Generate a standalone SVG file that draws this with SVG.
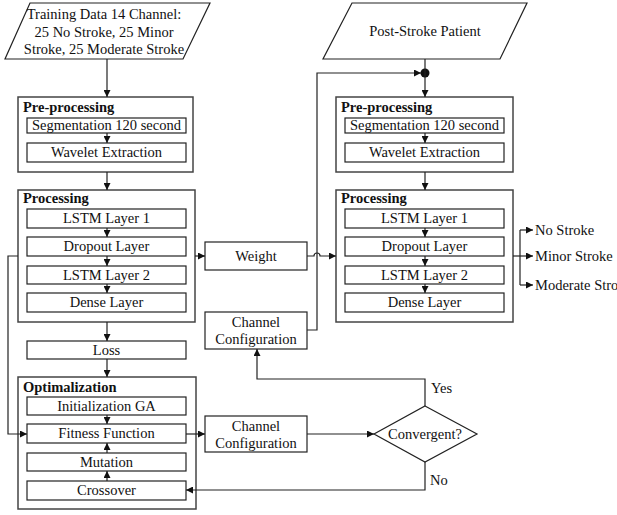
<svg xmlns="http://www.w3.org/2000/svg" width="617" height="515" viewBox="0 0 617 515">
<style>
.b{fill:#fff;stroke:#222;stroke-width:1.2}
.o{fill:#fff;stroke:#444;stroke-width:1.5}
text{font-family:'Liberation Serif','Times New Roman','DejaVu Serif',serif;font-size:14.5px;fill:#111}
.t{text-anchor:middle}
.h{font-weight:bold}
.c{fill:none;stroke:#222;stroke-width:1.2}
</style>
<defs>
<marker id="a" viewBox="0 0 10 10" refX="10" refY="5" markerWidth="7" markerHeight="7" markerUnits="userSpaceOnUse" orient="auto"><path d="M0,0 L10,5 L0,10 z" fill="#111"/></marker>
</defs>
<rect width="617" height="515" fill="#fff"/>
<g id="training-data">
<polygon class="b" points="30,3 210,3 183,59 5,59"/>
<text class="t" x="104" y="19">Training Data 14 Channel:</text>
<text class="t" x="104" y="37">25 No Stroke, 25 Minor</text>
<text class="t" x="104" y="54">Stroke, 25 Moderate Stroke</text>
</g>
<g id="preprocessing-left">
<rect class="o" x="18" y="97" width="175" height="75"/>
<text class="h" x="23" y="112">Pre-processing</text>
<rect class="b" x="27" y="118" width="159" height="15"/>
<text class="t" x="106.5" y="130">Segmentation 120 second</text>
<rect class="b" x="27" y="143" width="159" height="19"/>
<text class="t" x="106.5" y="157">Wavelet Extraction</text>
</g>
<g id="processing-left">
<rect class="o" x="18" y="190" width="177" height="132"/>
<text class="h" x="23" y="203">Processing</text>
<rect class="b" x="27" y="209" width="159" height="19"/>
<text class="t" x="106.5" y="223">LSTM Layer 1</text>
<rect class="b" x="27" y="237" width="159" height="19"/>
<text class="t" x="106.5" y="251">Dropout Layer</text>
<rect class="b" x="27" y="266" width="159" height="18"/>
<text class="t" x="106.5" y="280">LSTM Layer 2</text>
<rect class="b" x="27" y="293" width="159" height="19"/>
<text class="t" x="106.5" y="307">Dense Layer</text>
</g>
<g id="loss">
<rect class="b" x="27" y="341" width="159" height="18"/>
<text class="t" x="106.5" y="355">Loss</text>
</g>
<g id="optimalization">
<rect class="o" x="18" y="377" width="178" height="132"/>
<text class="h" x="23" y="392">Optimalization</text>
<rect class="b" x="27" y="397" width="159" height="18"/>
<text class="t" x="106.5" y="411">Initialization GA</text>
<rect class="b" x="27" y="424" width="159" height="19"/>
<text class="t" x="106.5" y="438">Fitness Function</text>
<rect class="b" x="27" y="453" width="159" height="18"/>
<text class="t" x="106.5" y="467">Mutation</text>
<rect class="b" x="27" y="481" width="159" height="19"/>
<text class="t" x="106.5" y="495">Crossover</text>
</g>
<g id="weight">
<rect class="b" x="205" y="242" width="102" height="28"/>
<text class="t" x="256" y="261">Weight</text>
</g>
<g id="channel-config-top">
<rect class="b" x="205" y="312" width="102" height="37"/>
<text class="t" x="256" y="327">Channel</text>
<text class="t" x="256" y="344">Configuration</text>
</g>
<g id="channel-config-bottom">
<rect class="b" x="205" y="416" width="102" height="36"/>
<text class="t" x="256" y="431">Channel</text>
<text class="t" x="256" y="448">Configuration</text>
</g>
<g id="convergent">
<polygon class="b" points="425,406 477,434 425,462 374,434"/>
<text class="t" x="425" y="439">Convergent?</text>
</g>
<text x="431" y="393">Yes</text>
<text x="430" y="485">No</text>
<g id="post-stroke-patient">
<polygon class="b" points="352,3 527,3 500,59 323,59"/>
<text class="t" x="425" y="36">Post-Stroke Patient</text>
</g>
<g id="preprocessing-right">
<rect class="o" x="336" y="97" width="177" height="75"/>
<text class="h" x="341" y="112">Pre-processing</text>
<rect class="b" x="345" y="118" width="159" height="15"/>
<text class="t" x="424.5" y="130">Segmentation 120 second</text>
<rect class="b" x="345" y="143" width="159" height="19"/>
<text class="t" x="424.5" y="157">Wavelet Extraction</text>
</g>
<g id="processing-right">
<rect class="o" x="336" y="190" width="177" height="132"/>
<text class="h" x="341" y="203">Processing</text>
<rect class="b" x="345" y="209" width="159" height="19"/>
<text class="t" x="424.5" y="223">LSTM Layer 1</text>
<rect class="b" x="345" y="237" width="159" height="19"/>
<text class="t" x="424.5" y="251">Dropout Layer</text>
<rect class="b" x="345" y="266" width="159" height="18"/>
<text class="t" x="424.5" y="280">LSTM Layer 2</text>
<rect class="b" x="345" y="293" width="159" height="19"/>
<text class="t" x="424.5" y="307">Dense Layer</text>
</g>
<g id="outputs">
<text x="535" y="235">No Stroke</text>
<text x="535" y="261">Minor Stroke</text>
<text x="535" y="290">Moderate Stro</text>
</g>
<g id="connectors">
<path class="c" d="M107,59 V97" marker-end="url(#a)"/>
<path class="c" d="M107,133 V143" marker-end="url(#a)"/>
<path class="c" d="M107,172 V190" marker-end="url(#a)"/>
<path class="c" d="M107,228 V237" marker-end="url(#a)"/>
<path class="c" d="M107,256 V266" marker-end="url(#a)"/>
<path class="c" d="M107,284 V293" marker-end="url(#a)"/>
<path class="c" d="M107,322 V341" marker-end="url(#a)"/>
<path class="c" d="M107,359 V377" marker-end="url(#a)"/>
<path class="c" d="M107,415 V424" marker-end="url(#a)"/>
<path class="c" d="M107,453 V443" marker-end="url(#a)"/>
<path class="c" d="M107,481 V471" marker-end="url(#a)"/>
<path class="c" d="M18,256 H8 V434 H27" marker-end="url(#a)"/>
<path class="c" d="M195,256 H205" marker-end="url(#a)"/>
<path class="c" d="M307,256 H314 A3,3 0 0 1 320,256 H336" marker-end="url(#a)"/>
<path class="c" d="M307,330 H317 V73 H421" marker-end="url(#a)"/>
<circle cx="425" cy="73" r="4.5" fill="#111"/>
<path class="c" d="M425,59 V97" marker-end="url(#a)"/>
<path class="c" d="M425,133 V143" marker-end="url(#a)"/>
<path class="c" d="M425,172 V190" marker-end="url(#a)"/>
<path class="c" d="M425,228 V237" marker-end="url(#a)"/>
<path class="c" d="M425,256 V266" marker-end="url(#a)"/>
<path class="c" d="M425,284 V293" marker-end="url(#a)"/>
<path class="c" d="M513,256 H520"/>
<path class="c" d="M520,230 V285"/>
<path class="c" d="M520,230 H533" marker-end="url(#a)"/>
<path class="c" d="M520,256 H533" marker-end="url(#a)"/>
<path class="c" d="M520,285 H533" marker-end="url(#a)"/>
<path class="c" d="M186,434 H205" marker-end="url(#a)"/>
<path class="c" d="M307,434 H374" marker-end="url(#a)"/>
<path class="c" d="M425,406 V379 H257 V349" marker-end="url(#a)"/>
<path class="c" d="M425,462 V490 H186" marker-end="url(#a)"/>
</g>
</svg>
